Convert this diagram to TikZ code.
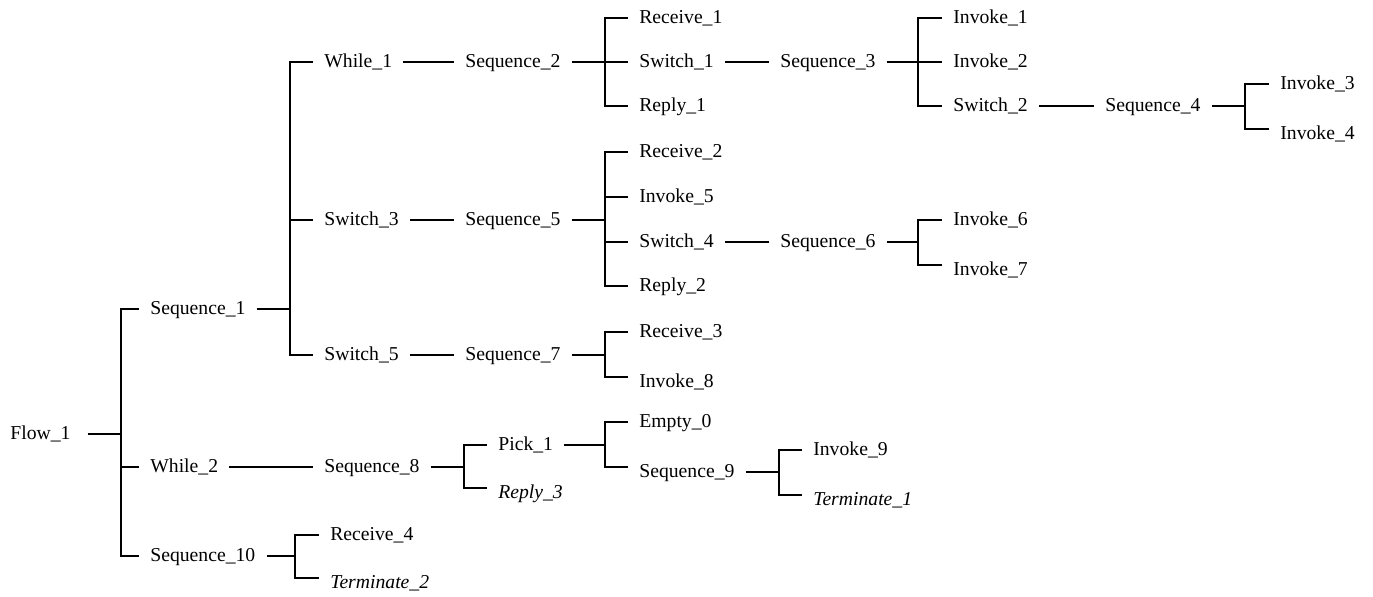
\documentclass[tikz,border=0pt]{standalone}
\usepackage{fontspec}
\setmainfont{Liberation Serif}
\tikzset{
    act/.style={
        anchor=west,
        inner xsep=0.22cm,
        inner ysep=0pt,
        text height=8pt,
        text depth=1.9pt,
        font=\fontsize{11.2}{13}\selectfont
    },
    fault/.style={
        act,
        font=\fontsize{11.2}{13}\selectfont\itshape
    },
    link/.style={
        line width=1.3pt,
        black
    }
}

\begin{document}
\begin{tikzpicture}[x=0.02cm, y=-0.02cm]
    \useasboundingbox (0,0) rectangle (1373,596);

    % junction columns (only x is used)
    \coordinate (j0) at (121,0);
    \coordinate (j1) at (290,0);
    \coordinate (j10) at (295,0);
    \coordinate (j8) at (464,0);
    \coordinate (j2) at (605,0);
    \coordinate (j9) at (779,0);
    \coordinate (j3) at (918,0);
    \coordinate (j4) at (1245,0);

    % Level 0 and 1
    \node[act] (flow1) at (-1,434) {Flow\_1};
    \node[act] (seq1) at (139,309) {Sequence\_1};
    \node[act] (while2) at (139,467) {While\_2};
    \node[act] (seq10) at (139,556) {Sequence\_10};

    % Level 2
    \node[act] (while1) at (313,62) {While\_1};
    \node[act] (sw3) at (313,220) {Switch\_3};
    \node[act] (sw5) at (313,355) {Switch\_5};
    \node[act] (seq8) at (313,467) {Sequence\_8};
    \node[act] (rcv4) at (319,535) {Receive\_4};
    \node[fault] (term2) at (319,583) {Terminate\_2};

    % Level 3
    \node[act] (seq2) at (454,62) {Sequence\_2};
    \node[act] (seq5) at (454,220) {Sequence\_5};
    \node[act] (seq7) at (454,355) {Sequence\_7};
    \node[act] (pick1) at (487,445) {Pick\_1};
    \node[fault] (reply3) at (487,493) {Reply\_3};

    % Level 4
    \node[act] (rcv1) at (628,18) {Receive\_1};
    \node[act] (sw1) at (628,62) {Switch\_1};
    \node[act] (reply1) at (628,106) {Reply\_1};
    \node[act] (rcv2) at (628,152) {Receive\_2};
    \node[act] (inv5) at (628,197) {Invoke\_5};
    \node[act] (sw4) at (628,242) {Switch\_4};
    \node[act] (reply2) at (628,286) {Reply\_2};
    \node[act] (rcv3) at (628,332) {Receive\_3};
    \node[act] (inv8) at (628,382) {Invoke\_8};
    \node[act] (empty0) at (628,422) {Empty\_0};
    \node[act] (seq9) at (628,472) {Sequence\_9};

    % Level 5
    \node[act] (seq3) at (769,62) {Sequence\_3};
    \node[act] (seq6) at (769,242) {Sequence\_6};
    \node[act] (inv9) at (802,450) {Invoke\_9};
    \node[fault] (term1) at (802,500) {Terminate\_1};

    % Level 6 and 7
    \node[act] (inv1) at (942,18) {Invoke\_1};
    \node[act] (inv2) at (942,62) {Invoke\_2};
    \node[act] (sw2) at (942,106) {Switch\_2};
    \node[act] (inv6) at (942,220) {Invoke\_6};
    \node[act] (inv7) at (942,270) {Invoke\_7};
    \node[act] (seq4) at (1094,106) {Sequence\_4};
    \node[act] (inv3) at (1269,84) {Invoke\_3};
    \node[act] (inv4) at (1269,134) {Invoke\_4};

    % Single links
    \draw[link] (while1.east) -- (seq2.west);
    \draw[link] (sw3.east) -- (seq5.west);
    \draw[link] (sw5.east) -- (seq7.west);
    \draw[link] (while2.east) -- (seq8.west);
    \draw[link] (sw1.east) -- (seq3.west);
    \draw[link] (sw4.east) -- (seq6.west);
    \draw[link] (sw2.east) -- (seq4.west);

    % Branches
    \foreach \c in {seq1,while2,seq10}
        \draw[link] ([xshift=0.12cm]flow1.east) -- (flow1.east -| j0) |- (\c.west);
    \foreach \c in {while1,sw3,sw5}
        \draw[link] (seq1.east) -- (seq1.east -| j1) |- (\c.west);
    \foreach \c in {rcv1,sw1,reply1}
        \draw[link] (seq2.east) -- (seq2.east -| j2) |- (\c.west);
    \foreach \c in {rcv2,inv5,sw4,reply2}
        \draw[link] (seq5.east) -- (seq5.east -| j2) |- (\c.west);
    \foreach \c in {inv1,inv2,sw2}
        \draw[link] (seq3.east) -- (seq3.east -| j3) |- (\c.west);

    % Two-way branches, lower stub sits a little above its label
    \draw[link] (seq10.east) -- (seq10.east -| j10) |- (rcv4.west);
    \draw[link] (seq10.east -| j10) |- ([yshift=1mm]term2.west);
    \draw[link] (seq7.east) -- (seq7.east -| j2) |- (rcv3.west);
    \draw[link] (seq7.east -| j2) |- ([yshift=1mm]inv8.west);
    \draw[link] (seq8.east) -- (seq8.east -| j8) |- (pick1.west);
    \draw[link] (seq8.east -| j8) |- ([yshift=1mm]reply3.west);
    \draw[link] (pick1.east) -- (pick1.east -| j2) |- (empty0.west);
    \draw[link] (pick1.east -| j2) |- ([yshift=1mm]seq9.west);
    \draw[link] (seq9.east) -- (seq9.east -| j9) |- (inv9.west);
    \draw[link] (seq9.east -| j9) |- ([yshift=1mm]term1.west);
    \draw[link] (seq6.east) -- (seq6.east -| j3) |- (inv6.west);
    \draw[link] (seq6.east -| j3) |- ([yshift=1mm]inv7.west);
    \draw[link] (seq4.east) -- (seq4.east -| j4) |- (inv3.west);
    \draw[link] (seq4.east -| j4) |- ([yshift=1mm]inv4.west);
\end{tikzpicture}
\end{document}
